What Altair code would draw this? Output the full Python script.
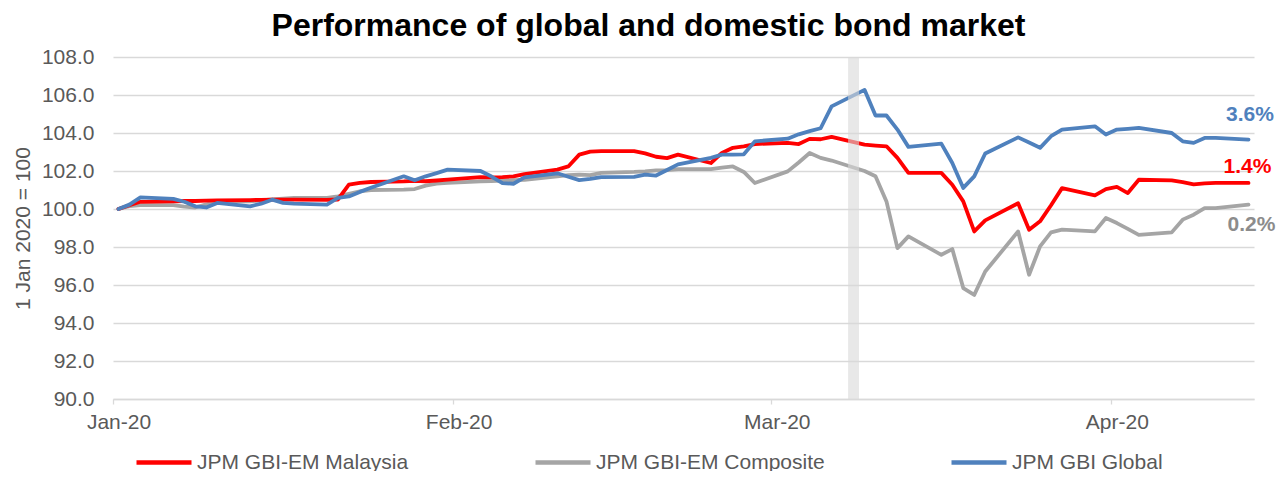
import altair as alt
import pandas as pd

dates = [
    "2020-01-01", "2020-01-02", "2020-01-03", "2020-01-06", "2020-01-07", "2020-01-08",
    "2020-01-09", "2020-01-10", "2020-01-13", "2020-01-14", "2020-01-15", "2020-01-16",
    "2020-01-17", "2020-01-20", "2020-01-21", "2020-01-22", "2020-01-23", "2020-01-24",
    "2020-01-27", "2020-01-28", "2020-01-29", "2020-01-30", "2020-01-31",
    "2020-02-03", "2020-02-04", "2020-02-05", "2020-02-06", "2020-02-07",
    "2020-02-10", "2020-02-11", "2020-02-12", "2020-02-13", "2020-02-14",
    "2020-02-17", "2020-02-18", "2020-02-19", "2020-02-20", "2020-02-21",
    "2020-02-24", "2020-02-25", "2020-02-26", "2020-02-27", "2020-02-28",
    "2020-03-02", "2020-03-03", "2020-03-04", "2020-03-05", "2020-03-06",
    "2020-03-09", "2020-03-10", "2020-03-11", "2020-03-12", "2020-03-13",
    "2020-03-16", "2020-03-17", "2020-03-18", "2020-03-19", "2020-03-20",
    "2020-03-23", "2020-03-24", "2020-03-25", "2020-03-26", "2020-03-27",
    "2020-03-30", "2020-03-31", "2020-04-01", "2020-04-02", "2020-04-03",
    "2020-04-06", "2020-04-07", "2020-04-08", "2020-04-09", "2020-04-10",
    "2020-04-13",
]

malaysia = [
    100.0, 100.2, 100.38, 100.4, 100.42, 100.42, 100.44, 100.45, 100.47, 100.48, 100.49, 100.49,
    100.49, 100.48, 100.5, 101.28, 101.38, 101.42, 101.45, 101.48, 101.46, 101.5, 101.55,
    101.68, 101.66, 101.68, 101.72, 101.84,
    102.07, 102.24, 102.86, 103.02, 103.05,
    103.05, 102.93, 102.75, 102.68, 102.86,
    102.42, 102.95, 103.22, 103.3, 103.42,
    103.48, 103.42, 103.69, 103.67, 103.8,
    103.39, 103.34, 103.3, 102.69, 101.9,
    101.9, 101.28, 100.4, 98.82, 99.4,
    100.3, 98.91, 99.35, 100.2, 101.1,
    100.72, 101.05, 101.16, 100.84, 101.54,
    101.51, 101.42, 101.3, 101.35, 101.37,
    101.37,
]

composite = [
    100.0, 100.15, 100.2, 100.2, 100.12, 100.08, 100.25, 100.38, 100.4, 100.45, 100.5, 100.55,
    100.58, 100.58, 100.66, 100.8, 100.93, 101.0, 101.02, 101.05, 101.23, 101.33, 101.38,
    101.45, 101.47, 101.5, 101.52, 101.54,
    101.72, 101.78, 101.81, 101.78, 101.9,
    101.95, 101.98, 102.03, 102.05, 102.1,
    102.1, 102.18, 102.24, 101.95, 101.37,
    101.98, 102.45, 102.95, 102.69, 102.55,
    102.0, 101.72, 100.4, 97.94, 98.56,
    97.59, 97.89, 95.84, 95.48, 96.71,
    98.82, 96.54, 98.03, 98.77, 98.91,
    98.82, 99.53, 99.26, 98.95, 98.64,
    98.77, 99.44, 99.7, 100.05, 100.05,
    100.23,
]

global_bonds = [
    100.0, 100.23, 100.61, 100.53, 100.38, 100.14, 100.08, 100.32, 100.14, 100.28, 100.49, 100.32,
    100.28, 100.23, 100.58, 100.66, 100.9, 101.12, 101.72, 101.51, 101.72, 101.89, 102.07,
    102.0, 101.71, 101.36, 101.33, 101.66,
    101.88, 101.7, 101.52, 101.58, 101.68,
    101.69, 101.81, 101.76, 102.05, 102.35,
    102.69, 102.86, 102.86, 102.88, 103.56,
    103.7, 103.93, 104.1, 104.25, 105.4,
    106.27, 104.92, 104.92, 104.18, 103.27,
    103.44, 102.42, 101.11, 101.72, 102.92,
    103.77, 103.5, 103.22, 103.83, 104.18,
    104.35, 103.92, 104.18, 104.22, 104.27,
    104.0, 103.56, 103.48, 103.74, 103.74,
    103.65,
]

series_names = ["JPM GBI-EM Malaysia", "JPM GBI-EM Composite", "JPM GBI Global"]
series_values = [malaysia, composite, global_bonds]
series_colors = ["#ff0000", "#a5a5a5", "#4f81bd"]
label_colors = ["#ff0000", "#8c8c8c", "#4f81bd"]
end_labels = ["1.4%", "0.2%", "3.6%"]
y_ticks = [90, 92, 94, 96, 98, 100, 102, 104, 106, 108]
band_start = ["2020-03-08T00:00:00"]
band_end = ["2020-03-09T00:00:00"]
band_low = [90]
band_high = [108]

rows = []
for name, vals in zip(series_names, series_values):
    for d, v in zip(dates, vals):
        rows.append({"date": d + "T12:00:00", "value": v, "series": name})
df = pd.DataFrame(rows)

ends = pd.DataFrame({
    "date": [dates[-1] + "T12:00:00"] * 3,
    "value": [vals[-1] for vals in series_values],
    "series": series_names,
    "label": end_labels,
})

band = pd.DataFrame({"start": band_start, "end": band_end, "low": band_low, "high": band_high})

FONT = "Liberation Sans"
GREY_TXT = "#595959"

x_axis = alt.Axis(
    values=[alt.DateTime(year=2020, month=m, date=1) for m in [1, 2, 3, 4]],
    format="%b-%y", title=None, grid=False,
    labelFontSize=21, labelColor=GREY_TXT, labelFont=FONT,
    labelFlush=False, labelOverlap=False, labelOffset=5.5, labelPadding=7,
    tickColor="#d9d9d9", tickSize=5, tickWidth=1.3,
    domainColor="#d9d9d9", domainWidth=1.3,
)
x_scale = alt.Scale(domain=[alt.DateTime(year=2020, month=1, date=1),
                            alt.DateTime(year=2020, month=4, date=14)])
y_axis = alt.Axis(
    values=y_ticks, format=".1f", title="1 Jan 2020 = 100",
    labelFontSize=21, labelColor=GREY_TXT, labelFont=FONT, labelPadding=19,
    labelOverlap=False,
    ticks=False, domain=False, gridColor="#d9d9d9", gridWidth=1.3,
    titleFontSize=21, titleColor=GREY_TXT, titleFont=FONT, titleFontWeight="normal",
    titleX=-90, titleY=171, titleBaseline="middle", titleAngle=270,
)
y_scale = alt.Scale(domain=[90, 108], nice=False, zero=False)

color = alt.Color(
    "series:N",
    scale=alt.Scale(domain=series_names, range=series_colors),
    legend=alt.Legend(
        orient="none", legendX=21, legendY=375.5, direction="horizontal", title=None,
        symbolType="stroke", symbolStrokeWidth=4.5, symbolSize=3025,
        labelFontSize=21, labelColor=GREY_TXT, labelFont=FONT, labelOffset=3,
        columnPadding=117, padding=0, labelLimit=400, gridAlign="each",
    ),
)

x_enc = alt.X("date:T", scale=x_scale, axis=x_axis)
y_enc = alt.Y("value:Q", scale=y_scale, axis=y_axis)


def line_layer(name):
    return (
        alt.Chart(df)
        .transform_filter(alt.datum.series == name)
        .mark_line(strokeWidth=3.8, strokeJoin="round", strokeCap="round")
        .encode(x=x_enc, y=y_enc, color=color)
    )


band_layer = alt.Chart(band).mark_rect(color="#d9d9d9", opacity=0.6).encode(
    x=alt.X("start:T", scale=x_scale, axis=x_axis), x2="end:T",
    y=alt.Y("low:Q", scale=y_scale, axis=y_axis), y2="high:Q",
)

label_offsets = {"JPM GBI-EM Malaysia": (-1, -16), "JPM GBI-EM Composite": (3, 20),
                 "JPM GBI Global": (1.5, -25)}
label_layers = []
for name, lc in zip(series_names, label_colors):
    dx, dy = label_offsets[name]
    label_layers.append(
        alt.Chart(ends)
        .transform_filter(alt.datum.series == name)
        .mark_text(font=FONT, fontSize=21, fontWeight="bold", color=lc,
                   align="center", baseline="middle", dx=dx, dy=dy)
        .encode(x=x_enc, y=y_enc, text="label:N")
    )

chart = alt.layer(
    line_layer("JPM GBI-EM Composite"),
    line_layer("JPM GBI-EM Malaysia"),
    line_layer("JPM GBI Global"),
    band_layer,
    *label_layers,
).properties(
    width=1141, height=342,
    autosize=alt.AutoSizeParams(type="none"),
    padding={"left": 105, "top": 49, "right": 22, "bottom": 72},
    background="white",
    title=alt.TitleParams(
        "Performance of global and domestic bond market",
        font=FONT, fontSize=32, fontWeight="bold", color="#000000",
        anchor="middle", frame="group", baseline="alphabetic", offset=-22, dx=-35,
    ),
).configure_view(stroke=None)

chart.save("out.html", embed_options={"renderer": "svg", "actions": False})
